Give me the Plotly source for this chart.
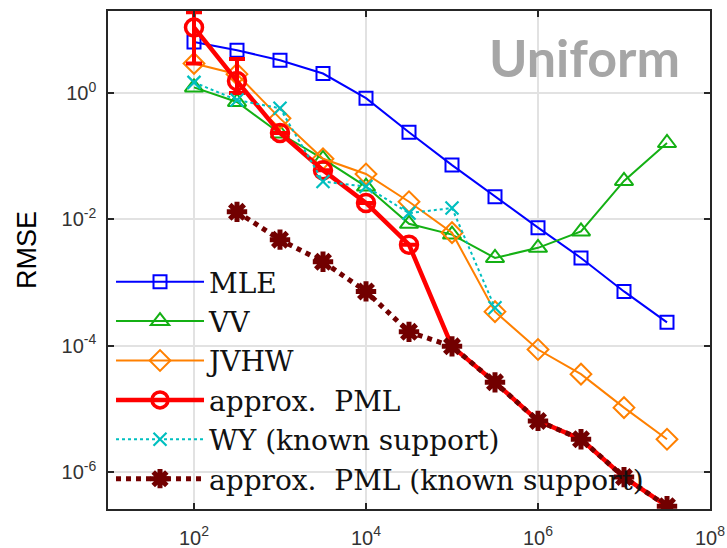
import plotly.graph_objects as go

# sample sizes (log10 n)
log_n = [2.0, 2.5, 3.0, 3.5, 4.0, 4.5, 5.0, 5.5, 6.0, 6.5, 7.0, 7.5]
n_vals = [10 ** v for v in log_n]

# log10 RMSE
mle_log = [0.81, 0.68, 0.52, 0.31, -0.08, -0.62, -1.14, -1.64, -2.13, -2.61, -3.14, -3.63]
vv_log = [0.09, -0.14, -0.64, -1.04, -1.48, -2.07, -2.24, -2.61, -2.45, -2.19, -1.39, -0.79]
jvhw_log = [0.47, 0.30, -0.40, -1.04, -1.28, -1.72, -2.21, -3.46, -4.06, -4.45, -4.98, -5.48]
pml_log = [1.04, 0.19, -0.63, -1.22, -1.74, -2.40, -4.01, -4.58, -5.19, -5.48, -6.08, -6.54]
wy_log = [0.17, -0.11, -0.24, -1.40, -1.48, -1.90, -1.82, -3.40]
pmlk_log = [-1.88, -2.32, -2.67, -3.14, -3.78, -4.01, -4.58, -5.19, -5.48, -6.08, -6.54]

# error bars of approx. PML (log10 upper / lower), first two points
pml_err_hi_log = [1.28, 0.54]
pml_err_lo_log = [0.47, 0.00]

y_tick_vals = [1, 1e-2, 1e-4, 1e-6]
y_tick_text = ["10<sup>0</sup>", "10<sup>-2</sup>", "10<sup>-4</sup>", "10<sup>-6</sup>"]
x_tick_vals = [1e2, 1e4, 1e6, 1e8]
x_tick_text = ["10<sup>2</sup>", "10<sup>4</sup>", "10<sup>6</sup>", "10<sup>8</sup>"]

names = ["MLE", "VV", "JVHW", "approx.  PML", "WY (known support)", "approx.  PML (known support)"]

# number of approx. PML points drawn with circle markers (rest hidden beneath known-support curve)
pml_marked = 6


def lin(a):
    return [10 ** v for v in a]


pml = lin(pml_log)
err_plus = [0.0] * pml_marked
err_minus = [0.0] * pml_marked
for i in range(len(pml_err_hi_log)):
    err_plus[i] = 10 ** pml_err_hi_log[i] - pml[i]
    err_minus[i] = pml[i] - 10 ** pml_err_lo_log[i]

fig = go.Figure()
fig.add_trace(go.Scatter(x=n_vals, y=lin(mle_log), name=names[0], mode="lines+markers",
                         line=dict(color="#0000ff", width=2),
                         marker=dict(symbol="square-open", size=13, color="#0000ff", line=dict(width=2))))
fig.add_trace(go.Scatter(x=n_vals, y=lin(vv_log), name=names[1], mode="lines+markers",
                         line=dict(color="#14b014", width=2),
                         marker=dict(symbol="triangle-up-open", size=16, color="#14b014", line=dict(width=2))))
fig.add_trace(go.Scatter(x=n_vals, y=lin(jvhw_log), name=names[2], mode="lines+markers",
                         line=dict(color="#ff8000", width=2),
                         marker=dict(symbol="diamond-open", size=16, color="#ff8000", line=dict(width=2))))
fig.add_trace(go.Scatter(x=n_vals[pml_marked - 1:], y=pml[pml_marked - 1:], mode="lines",
                         line=dict(color="#ff0000", width=4.5), showlegend=False, legendgroup="pml"))
fig.add_trace(go.Scatter(x=n_vals[:pml_marked], y=pml[:pml_marked], name=names[3], mode="lines+markers",
                         legendgroup="pml",
                         line=dict(color="#ff0000", width=4.5),
                         marker=dict(symbol="circle-open", size=17, color="#ff0000", line=dict(width=3.5)),
                         error_y=dict(type="data", symmetric=False, array=err_plus, arrayminus=err_minus,
                                      color="#ff0000", thickness=4, width=8)))
fig.add_trace(go.Scatter(x=n_vals[:len(wy_log)], y=lin(wy_log), name=names[4], mode="lines+markers",
                         line=dict(color="#00bfbf", width=2, dash="dot"),
                         marker=dict(symbol="x-thin-open", size=13, color="#00bfbf", line=dict(width=2.2))))
fig.add_trace(go.Scatter(x=n_vals[1:], y=lin(pmlk_log), name=names[5], mode="lines+markers",
                         line=dict(color="#720000", width=5, dash="dot"),
                         marker=dict(symbol="asterisk-open", size=17, color="#720000", line=dict(width=5, color="#720000"))))

fig.add_annotation(text="<b>Uniform</b>", x=0.792, y=0.908, xref="paper", yref="paper",
                   xanchor="center", yanchor="middle",
                   showarrow=False, font=dict(family="Lato", size=52, color="#a6a6a6"))
fig.add_annotation(text="RMSE", x=-0.1346, y=0.52, xref="paper", yref="paper", textangle=-90,
                   xanchor="center", yanchor="middle",
                   showarrow=False, font=dict(family="Liberation Sans", size=27, color="#000000"))

axis_common = dict(type="log", showline=True, linecolor="#262626", linewidth=1.5, mirror="ticks",
                   ticks="inside", ticklen=6, tickwidth=1.5, tickcolor="#262626", automargin=False,
                   showgrid=True, gridcolor="#e2e2e2", gridwidth=1.5, zeroline=False,
                   tickfont=dict(family="Liberation Sans", size=20, color="#333333"))
fig.update_xaxes(range=[1, 8], tickvals=x_tick_vals, ticktext=x_tick_text, ticklabelstandoff=10,
                 **axis_common)
fig.update_yaxes(range=[-6.585, 1.3], tickvals=y_tick_vals, ticktext=y_tick_text, ticklabelstandoff=6,
                 **axis_common)

fig.update_layout(width=727, height=548, margin=dict(l=108, r=17, t=11, b=39, autoexpand=False),
                  plot_bgcolor="white", paper_bgcolor="white",
                  legend=dict(x=0.005, y=0.506, xanchor="left", yanchor="top", bgcolor="rgba(0,0,0,0)",
                              font=dict(family="DejaVu Serif", size=28, color="#111111"),
                              itemwidth=88, tracegroupgap=0))

fig.write_html("out.html")
